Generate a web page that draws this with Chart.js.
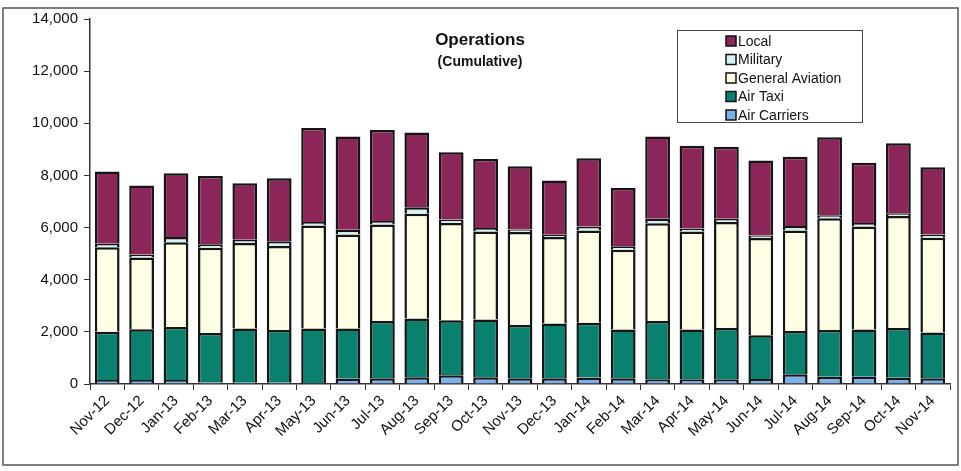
<!DOCTYPE html>
<html>
<head>
<meta charset="utf-8">
<script src="https://cdn.jsdelivr.net/npm/chart.js@4"></script>
<style>
  html, body { margin: 0; padding: 0; background: #fff; }
  #wrap { width: 961px; height: 471px; }
</style>
</head>
<body>
<div id="wrap"><canvas id="opsChart" width="961" height="471"></canvas></div>
<script>
// Operations (Cumulative) - stacked bars

var months = ['Nov-12', 'Dec-12', 'Jan-13', 'Feb-13', 'Mar-13', 'Apr-13', 'May-13', 'Jun-13', 'Jul-13',
    'Aug-13', 'Sep-13', 'Oct-13', 'Nov-13', 'Dec-13', 'Jan-14', 'Feb-14', 'Mar-14', 'Apr-14', 'May-14',
    'Jun-14', 'Jul-14', 'Aug-14', 'Sep-14', 'Oct-14', 'Nov-14'];

var airCarriers = [150, 150, 150, 60, 50, 50, 40, 200, 220, 260, 340, 260, 220, 220, 250, 220, 180, 180, 180, 190, 370, 280, 280, 240, 220];
var airTaxi = [1850, 1950, 2040, 1900, 2080, 2020, 2090, 1930, 2200, 2250, 2110, 2210, 2040, 2100, 2100, 1870, 2240, 1910, 1970, 1680, 1660, 1790, 1810, 1910, 1760];
var generalAviation = [3250, 2750, 3250, 3270, 3280, 3220, 3950, 3600, 3700, 4020, 3730, 3380, 3570, 3320, 3540, 3060, 3750, 3760, 4060, 3730, 3860, 4290, 3950, 4290, 3630];
var military = [130, 120, 200, 130, 120, 190, 130, 190, 130, 250, 130, 130, 100, 80, 150, 130, 170, 110, 130, 100, 170, 110, 140, 110, 120];
var local = [2770, 2640, 2440, 2620, 2170, 2410, 3610, 3570, 3490, 2870, 2580, 2650, 2420, 2090, 2620, 2240, 3150, 3180, 2760, 2870, 2660, 2990, 2310, 2680, 2580];

var yTicks = [0, 2000, 4000, 6000, 8000, 10000, 12000, 14000];

var FONT = '"Liberation Sans", Arial, sans-serif';

// frame, titles and the boxed legend drawn on the canvas
var decorations = {
    id: 'decorations',
    beforeDraw: function (chart) {
        var c = chart.ctx;
        c.save();
        c.fillStyle = '#fff';
        c.fillRect(0, 0, chart.width, chart.height);
        c.strokeStyle = '#555';
        c.lineWidth = 1.5;
        c.strokeRect(3, 8, chart.width - 6, chart.height - 14);
        c.restore();
    },
    afterDraw: function (chart) {
        var c = chart.ctx;
        c.save();
        c.fillStyle = '#111';
        c.textAlign = 'center';
        c.textBaseline = 'middle';
        c.font = 'bold 17px ' + FONT;
        c.fillText('Operations', 480, 40);
        c.font = 'bold 14px ' + FONT;
        c.fillText('(Cumulative)', 480, 62);

        // legend box
        c.strokeStyle = '#444';
        c.lineWidth = 1;
        c.strokeRect(677.5, 30.5, 185, 92);
        var order = [4, 3, 2, 1, 0];
        c.font = '14px ' + FONT;
        c.textAlign = 'left';
        order.forEach(function (di, i) {
            var ds = chart.data.datasets[di];
            var y = 41 + i * 18.5;
            c.fillStyle = ds.backgroundColor;
            c.fillRect(726, y - 5, 10, 10);
            c.strokeStyle = '#111';
            c.lineWidth = 1.5;
            c.strokeRect(726, y - 5, 10, 10);
            c.fillStyle = '#111';
            c.fillText(ds.label, 738, y + 1);
        });
        c.restore();
    }
};

var ctx = document.getElementById('opsChart').getContext('2d');
var myChart = new Chart(ctx, {
    type: 'bar',
    data: {
        labels: months,
        datasets: [
            { label: 'Air Carriers', data: airCarriers, backgroundColor: 'rgb(125, 175, 235)' },
            { label: 'Air Taxi', data: airTaxi, backgroundColor: 'rgb(10, 128, 110)' },
            { label: 'General Aviation', data: generalAviation, backgroundColor: 'rgb(255, 254, 228)' },
            { label: 'Military', data: military, backgroundColor: 'rgb(215, 240, 240)' },
            { label: 'Local', data: local, backgroundColor: 'rgb(140, 38, 88)' }
        ].map(function (d) {
            d.borderColor = '#151515';
            d.borderWidth = 2.5;
            d.categoryPercentage = 1;
            d.barPercentage = 0.72;
            return d;
        })
    },
    options: {
        responsive: false,
        animation: false,
        layout: {
            padding: { top: 19, right: 11, bottom: 0, left: 6 }
        },
        plugins: {
            legend: { display: false },
            tooltip: { enabled: false }
        },
        scales: {
            x: {
                stacked: true,
                grid: { display: true, drawOnChartArea: false, drawTicks: true, tickLength: 6, color: '#333', offset: true },
                border: { color: '#333', width: 1.5 },
                ticks: {
                    maxRotation: 45, minRotation: 45,
                    color: '#111',
                    font: { family: FONT, size: 15 },
                    padding: 2
                },
                afterFit: function (s) { s.height = 87; }
            },
            y: {
                stacked: true,
                min: 0, max: 14000,
                afterBuildTicks: function (s) {
                    s.ticks = yTicks.map(function (v) { return { value: v }; });
                },
                grid: { display: true, drawOnChartArea: false, drawTicks: true, tickLength: 6, color: '#333' },
                border: { color: '#333', width: 1.5 },
                ticks: {
                    color: '#111',
                    font: { family: FONT, size: 15 },
                    padding: 6,
                    callback: function (v) { return v.toLocaleString('en-US'); }
                },
                afterFit: function (s) { s.width = 84; }
            }
        }
    },
    plugins: [decorations]
});
</script>
</body>
</html>
